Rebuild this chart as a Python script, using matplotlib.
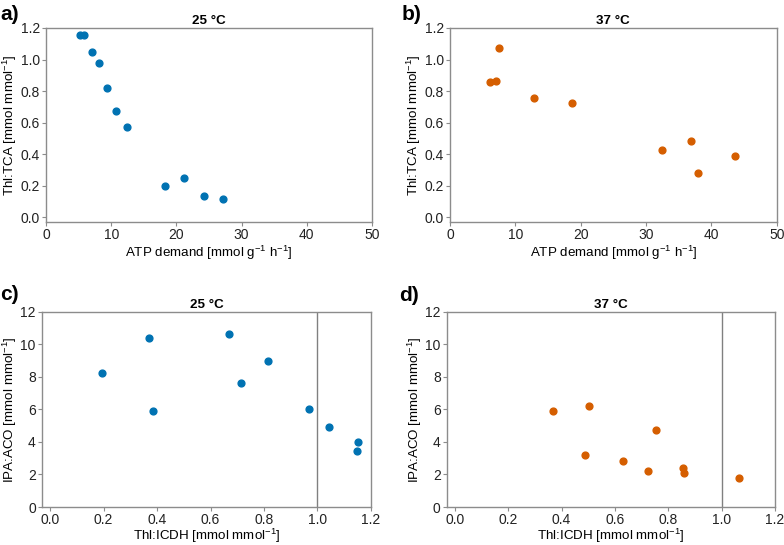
import matplotlib
matplotlib.use("Agg")
import matplotlib.pyplot as plt

plt.rcParams['font.family'] = ['Liberation Sans', 'DejaVu Sans']
plt.rcParams['mathtext.fontset'] = 'custom'
plt.rcParams['mathtext.rm'] = 'Liberation Sans'
plt.rcParams['mathtext.it'] = 'Liberation Sans'

# a) 25 °C: ATP demand vs Thl:TCA
atp_25 = [5.2, 5.9, 7.0, 8.1, 9.4, 10.7, 12.4, 18.3, 21.2, 24.2, 27.2]
thl_tca_25 = [1.154, 1.158, 1.046, 0.976, 0.82, 0.672, 0.575, 0.197, 0.251, 0.135, 0.116]

# b) 37 °C
atp_37 = [6.1, 7.1, 7.45, 12.8, 18.7, 32.4, 36.9, 38.0, 43.6]
thl_tca_37 = [0.858, 0.864, 1.071, 0.756, 0.725, 0.425, 0.486, 0.281, 0.391]

# c) 25 °C: Thl:ICDH vs IPA:ACO
thl_icdh_25 = [0.196, 0.370, 0.386, 0.668, 0.715, 0.815, 0.968, 1.043, 1.149, 1.151]
ipa_aco_25 = [8.27, 10.42, 5.91, 10.63, 7.61, 9.01, 6.03, 4.94, 3.47, 4.02]

# d) 37 °C
thl_icdh_37 = [0.369, 0.489, 0.502, 0.632, 0.724, 0.756, 0.856, 0.861, 1.067]
ipa_aco_37 = [5.88, 3.18, 6.24, 2.86, 2.2, 4.76, 2.39, 2.08, 1.76]

blue = '#0072B2'
orange = '#D55E00'

fig = plt.figure(figsize=(7.84, 5.45), dpi=100)
ax_a = fig.add_axes([0.0587, 0.5927, 0.4158, 0.356])
ax_b = fig.add_axes([0.574, 0.5927, 0.4167, 0.356])
ax_c = fig.add_axes([0.0536, 0.0697, 0.4196, 0.358])
ax_d = fig.add_axes([0.570, 0.0697, 0.4183, 0.358])

ax_a.scatter(atp_25, thl_tca_25, s=24, color=blue, zorder=3)
ax_b.scatter(atp_37, thl_tca_37, s=24, color=orange, zorder=3)
ax_c.scatter(thl_icdh_25, ipa_aco_25, s=24, color=blue, zorder=3)
ax_d.scatter(thl_icdh_37, ipa_aco_37, s=24, color=orange, zorder=3)

fs = 9.6

for ax in (ax_a, ax_b):
    ax.set_xlim(0, 50)
    ax.set_ylim(-0.03, 1.2)
    ax.set_xticks([0, 10, 20, 30, 40, 50])
    ax.set_yticks([0.0, 0.2, 0.4, 0.6, 0.8, 1.0, 1.2])
    ax.set_yticklabels(['0.0', '0.2', '0.4', '0.6', '0.8', '1.0', '1.2'])
    ax.set_xlabel(r'ATP demand [mmol g$^{-1}$ h$^{-1}$]', fontsize=fs, labelpad=1)
    ax.set_ylabel(r'Thl:TCA [mmol mmol$^{-1}$]', fontsize=fs, labelpad=1)

for ax in (ax_c, ax_d):
    ax.set_xlim(-0.03, 1.2)
    ax.set_ylim(0, 12)
    ax.set_xticks([0.0, 0.2, 0.4, 0.6, 0.8, 1.0, 1.2])
    ax.set_xticklabels(['0.0', '0.2', '0.4', '0.6', '0.8', '1.0', '1.2'])
    ax.set_yticks([0, 2, 4, 6, 8, 10, 12])
    ax.axvline(1.0, color='#808080', lw=1, zorder=1)
    ax.set_xlabel(r'Thl:ICDH [mmol mmol$^{-1}$]', fontsize=fs, labelpad=0)
    ax.set_ylabel(r'IPA:ACO [mmol mmol$^{-1}$]', fontsize=fs, labelpad=1)

titles = ['25 °C', '37 °C', '25 °C', '37 °C']
for ax, t in zip((ax_a, ax_b, ax_c, ax_d), titles):
    ax.set_title(t, fontsize=fs, fontweight='bold', pad=3)
    for sp in ax.spines.values():
        sp.set_color('#8c8c8c')
        sp.set_linewidth(1)
    ax.tick_params(colors='#8c8c8c', labelcolor='#222222', labelsize=10, length=3, width=0.8, pad=1.5)

for ax in (ax_c, ax_d):
    ax.tick_params(axis='x', pad=1)

letters = ['a)', 'b)', 'c)', 'd)']
letter_pos = [(0.0, 0.974), (0.512, 0.974), (0.0, 0.46), (0.509, 0.457)]
for l, (x, y) in zip(letters, letter_pos):
    fig.text(x, y, l, fontsize=15, fontweight='bold', ha='left', va='center')

fig.savefig('out.png', dpi=100)
